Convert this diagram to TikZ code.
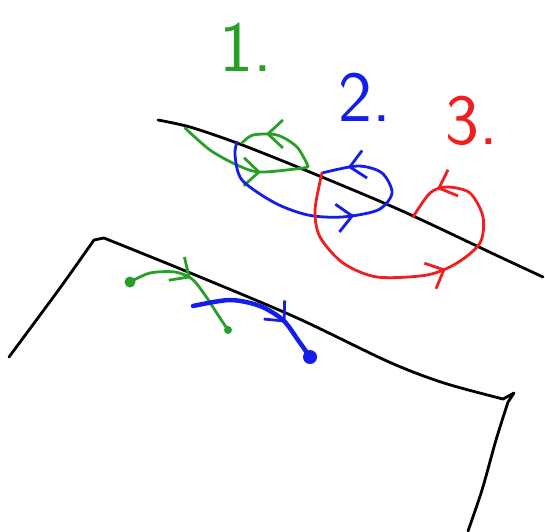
\documentclass[tikz,border=0pt]{standalone}
\usepackage{tikz}
\usetikzlibrary{arrows.meta,decorations.markings}

\begin{document}
\begin{tikzpicture}[x=1pt, y=-1pt,
    edge/.style={line width=2.8pt, line cap=round, line join=round},
    pen/.style={line width=2.8pt, line cap=round, line join=round},
    barb/.style={postaction={decorate}, decoration={markings,
        mark=at position #1 with {\arrow{Straight Barb[length=15pt,width=28pt,line width=2.8pt]}}}},
    twobarb/.style 2 args={postaction={decorate}, decoration={markings,
        mark=at position #1 with {\arrow{Straight Barb[length=15pt,width=28pt,line width=2.8pt]}},
        mark=at position #2 with {\arrow{Straight Barb[length=15pt,width=28pt,line width=2.8pt]}}}},
    num/.style={font=\sffamily\fontsize{72}{72}\selectfont, inner sep=0pt}
]
\definecolor{pgreen}{RGB}{40,160,40}
\definecolor{pblue}{RGB}{20,30,235}
\definecolor{pred}{RGB}{240,30,30}
\useasboundingbox (0,0) rectangle (545,531);

% surfaces
\draw[edge] plot[smooth, tension=0.5] coordinates {(158,120) (190,127) (237,143) (300,168) (400,210) (500,257) (543,277)};
\draw[edge] plot[smooth, tension=0.4] coordinates {(9,357) (60,288) (94,240)}
    -- (104,238) plot[smooth, tension=0.5] coordinates {(104,238) (188,272) (295,317) (389,362) (444,383) (503,399)}
    -- (514,393) -- (508,402) plot[smooth, tension=0.5] coordinates {(508,402) (496,440) (482,490) (468,531)};

% labels
\node[num, pgreen] (one) at (246,47) {1.};
\node[num, pblue] (two) at (365,97) {2.};
\node[num, pred] (three) at (472,121) {3.};

% loop 1
\draw[pen, pgreen, barb=0.65] plot[smooth] coordinates {(185,128) (210,150) (237,165) (260,172) (303,168) (308,166)};
\draw[pen, pgreen, barb=0.68] plot[smooth] coordinates {(308,166) (297,147) (277,135) (253,135) (242,143)};

% loop 2
\draw[pen, pblue, twobarb={0.55}{0.91}] plot[smooth] coordinates {(237,142) (235,155) (242,180) (275,203) (308,215) (342,217) (378,210) (392,193) (382,173) (358,166) (322,173)};

% loop 3
\draw[pen, pred, twobarb={0.55}{0.9}] plot[smooth] coordinates {(322,173) (315,210) (320,237) (343,263) (377,277) (427,275) (457,263) (480,243) (483,217) (470,193) (447,187) (430,193) (413,217)};

% paths under the lower surface
\draw[pen, pgreen, barb=0.5] plot[smooth] coordinates {(130,282) (150,273) (175,272) (192,279) (205,295) (218,315) (228,330)};
\fill[pgreen] (130,282) circle (5.5);
\fill[pgreen] (228,330) circle (4);
\draw[pen, pblue, line width=4.5pt, barb=0.7] plot[smooth] coordinates {(193,306) (230,300) (260,306) (283,320) (298,340) (310,357)};
\fill[pblue] (310,357) circle (7);
\end{tikzpicture}
\end{document}
